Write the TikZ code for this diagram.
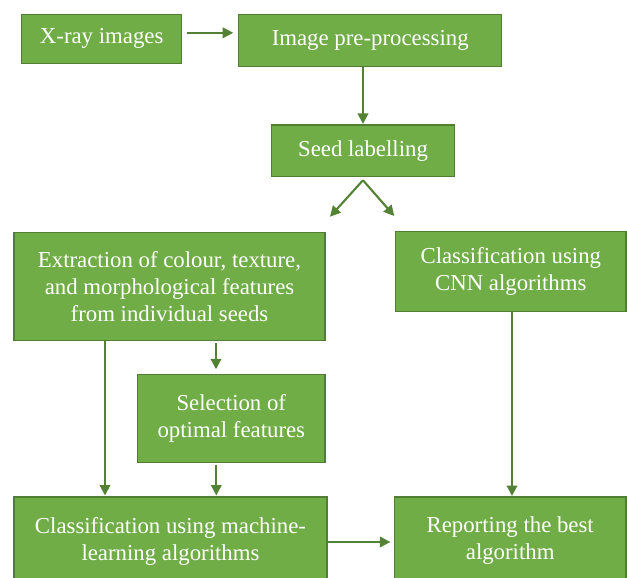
\documentclass[tikz,border=0pt]{standalone}
\usepackage{fontspec}
\setmainfont{Liberation Serif}
\usetikzlibrary{arrows.meta,calc}
\definecolor{boxfill}{HTML}{70AD47}
\definecolor{boxline}{HTML}{507E32}
\definecolor{arrcol}{HTML}{548235}
\begin{document}
\begin{tikzpicture}[x=1pt,y=-1pt,
  box/.style={draw=boxline, line width=1.5pt, fill=boxfill, text=white, align=center,
    inner sep=0pt, outer sep=0pt, font=\fontsize{22.8}{27}\selectfont},
  arr/.style={draw=arrcol, line width=2.1pt, -{Triangle[length=10.5pt,width=10.5pt]}}]
\useasboundingbox (0,0) rectangle (627,578);
\node[box, minimum width=160pt, minimum height=49pt] (xray) at (101.7,38.8) {X-ray images};
\node[box, minimum width=263pt, minimum height=52.4pt] (pre) at (370.2,40.5) {Image pre-processing};
\node[box, minimum width=182.6pt, minimum height=51.7pt] (seed) at (363,150.8) {Seed labelling};
\node[box, minimum width=311pt, minimum height=108.4pt] (ext) at (169.5,286.5) {Extraction of colour, texture,\\and morphological features\\from individual seeds};
\node[box, minimum width=230.3pt, minimum height=80pt] (cnn) at (510.8,271.7) {Classification using\\CNN algorithms};
\node[box, minimum width=187.3pt, minimum height=88.4pt] (sel) at (231.3,418.5) {Selection of\\optimal features};
\node[box, minimum width=313pt, minimum height=88pt] (ml) at (170.5,541) {Classification using machine-\\learning algorithms};
\node[box, minimum width=231.7pt, minimum height=88pt] (rep) at (510.2,541) {Reporting the best\\algorithm};
\coordinate (d1) at (330,216.7);
\coordinate (d2) at (394.3,216);
\draw[arr, shorten <=5pt, shorten >=5.5pt] ([yshift=6pt]xray.east) -- ([yshift=6pt]xray.east -| pre.west);
\draw[arr, shorten >=1pt] (seed.north |- pre.south) -- (seed.north);
\draw[arr] ([yshift=-3.6pt]seed.south) -- (d1);
\draw[arr] ([yshift=-3.6pt]seed.south) -- (d2);
\draw[arr, shorten >=5pt] ($(ext.south)+(46.5,2.5)$) coordinate (a) -- (a |- sel.north);
\draw[arr, shorten >=1.5pt] ($(ext.south west)+(91,0)$) coordinate (b) -- (b |- ml.north);
\draw[arr, shorten >=1.5pt] ($(sel.south)+(-15,2)$) coordinate (c) -- (c |- ml.north);
\draw[arr, shorten >=1pt] ($(cnn.south)+(1.2,0)$) coordinate (e) -- (e |- rep.north);
\draw[arr, shorten >=4pt] ([yshift=-1pt]ml.east) -- ([yshift=-1pt]ml.east -| rep.west);
\end{tikzpicture}
\end{document}
